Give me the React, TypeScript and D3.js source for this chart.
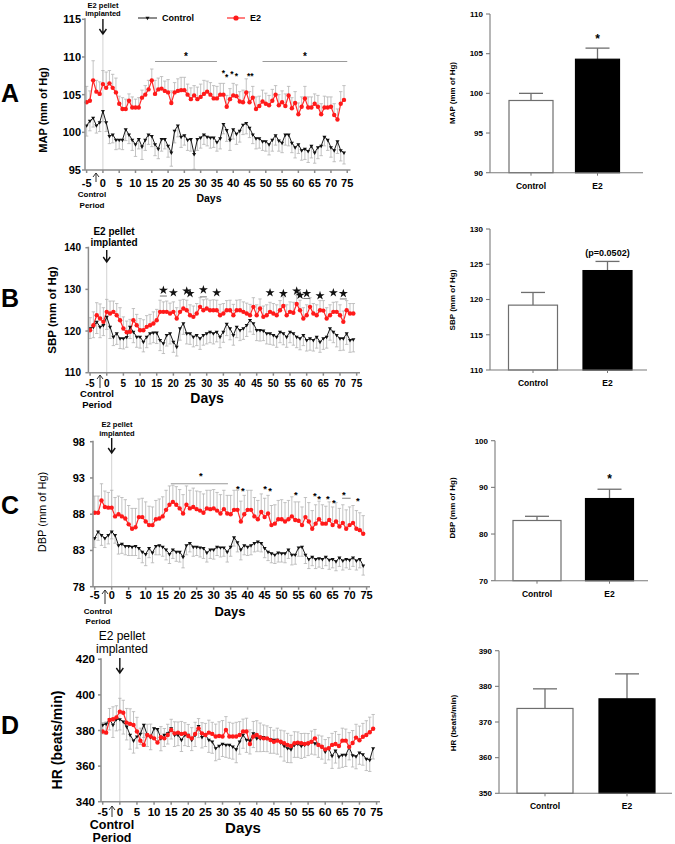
import React from "react";
import * as d3 from "d3";

const FONT = "'Liberation Sans', Arial, Helvetica, sans-serif";

const DAYS = d3.range(-5, 75);
const X_TICKS = d3.range(-5, 80, 5);
const GROUPS = ["Control", "E2"];

// ---------------- MAP ----------------
const MAP_E2 = [
  104.0, 104.2, 106.9, 105.4, 105.1, 106.4, 105.9, 106.5, 105.9, 105.3,
  103.8, 103.1, 103.1, 104.2, 103.3, 103.3, 103.3, 104.6, 105.0, 105.7,
  106.9, 105.1, 105.7, 105.8, 105.5, 105.3, 103.9, 105.3, 105.5, 105.6,
  105.6, 105.0, 104.4, 104.9, 104.4, 104.7, 105.1, 105.4, 105.0, 104.5,
  104.5, 105.0, 105.0, 103.4, 104.4, 104.9, 104.8, 104.1, 104.0, 105.3,
  104.0, 104.6, 103.1, 103.5, 104.1, 103.8, 103.6, 104.2, 105.0, 103.6,
  104.0, 103.5, 104.9, 103.2, 103.9, 102.4, 103.4, 104.5, 103.3, 103.3,
  103.8, 103.4, 102.4, 103.3, 103.3, 103.4, 102.3, 101.7, 103.8, 104.3,
];
const MAP_E2_ERR = [
  2.1, 1.3, 2.6, 1.5, 1.6, 1.8, 2.1, 1.7, 1.8, 1.9,
  1.0, 1.5, 1.3, 0.9, 1.4, 1.1, 1.3, 1.0, 1.2, 1.2,
  1.5, 1.8, 1.5, 1.6, 1.3, 1.7, 1.6, 1.3, 1.6, 1.7,
  1.7, 1.4, 1.5, 1.3, 1.6, 1.7, 1.8, 1.4, 1.6, 1.7,
  1.6, 1.5, 1.5, 1.5, 1.4, 1.6, 1.5, 1.3, 1.6, 1.8,
  1.4, 1.5, 1.6, 1.3, 1.5, 1.4, 1.3, 1.5, 1.2, 1.4,
  1.5, 1.6, 1.2, 1.4, 1.5, 1.5, 1.3, 1.6, 1.4, 1.4,
  1.3, 1.5, 1.4, 1.5, 1.4, 1.3, 1.5, 1.4, 1.6, 1.9,
];
const MAP_CTL = [
  100.9, 101.5, 101.9, 100.9, 101.3, 102.8, 101.3, 99.5, 99.7, 99.0,
  99.0, 99.0, 100.4, 99.7, 99.0, 98.4, 99.1, 98.1, 99.0, 99.7,
  99.5, 98.4, 97.8, 99.1, 99.1, 98.2, 97.3, 100.2, 100.9, 99.4,
  99.6, 99.0, 99.1, 97.1, 99.1, 99.3, 99.7, 99.4, 99.3, 99.3,
  98.7, 99.2, 101.1, 100.3, 99.0, 100.4, 99.8, 100.2, 101.0, 101.2,
  100.6, 99.7, 99.2, 99.2, 98.8, 98.8, 98.4, 99.0, 99.6, 98.9,
  98.6, 99.7, 99.7, 98.6, 98.0, 98.4, 97.6, 97.8, 97.5, 98.2,
  97.3, 98.0, 98.2, 99.4, 99.0, 98.0, 97.6, 98.8, 97.6, 97.3,
];
const MAP_CTL_ERR = [
  1.4, 1.3, 1.2, 1.0, 1.2, 1.4, 1.2, 1.0, 1.1, 1.3,
  1.2, 1.3, 1.5, 1.2, 1.4, 1.6, 1.3, 1.7, 1.4, 1.3,
  1.4, 1.5, 1.3, 1.6, 1.3, 1.5, 1.8, 1.6, 1.5, 1.4,
  1.3, 1.4, 1.6, 2.0, 1.5, 1.4, 1.3, 1.2, 1.4, 1.3,
  1.2, 1.4, 1.3, 1.5, 1.4, 1.3, 1.4, 1.5, 1.3, 1.4,
  1.3, 1.2, 1.4, 1.3, 1.2, 1.3, 1.4, 1.5, 1.3, 1.4,
  1.3, 1.4, 1.5, 1.3, 1.4, 1.2, 1.3, 1.4, 1.5, 1.6,
  1.4, 1.5, 1.3, 1.2, 1.4, 1.3, 1.5, 1.6, 1.4, 1.5,
];
const MAP_Y_TICKS = [95, 100, 105, 110, 115];
const MAP_SIG_LINES = [[16, 35], [49, 75]];
const MAP_SIG_LINE_VALUE = 109.4;
const MAP_STAR_DAYS = [25.5, 62, 37, 38, 39.6, 41, 44.7, 45.7];
const MAP_STAR_VALUES = [110.3, 110.3, 108.1, 107.6, 107.9, 107.7, 107.7, 107.7];
const MAP_BAR_MEAN = [99.1, 104.3];
const MAP_BAR_SEM = [0.9, 1.4];
const MAP_BAR_TICKS = [90, 95, 100, 105, 110];

// ---------------- SBP ----------------
const SBP_E2 = [
  120.2, 121.4, 123.8, 123.0, 122.2, 124.6, 124.2, 124.6, 123.8, 122.6,
  120.6, 119.7, 119.8, 122.6, 121.4, 120.2, 120.2, 121.0, 121.4, 121.8,
  122.6, 124.6, 124.6, 124.6, 124.2, 124.6, 123.0, 124.6, 125.4, 125.0,
  123.8, 123.4, 124.2, 125.8, 125.0, 125.4, 125.0, 125.0, 125.0, 123.8,
  124.2, 125.0, 125.0, 123.8, 125.0, 125.0, 124.6, 124.2, 123.8, 125.8,
  123.8, 125.4, 123.4, 123.8, 124.6, 124.2, 123.8, 125.0, 126.0, 123.8,
  124.6, 124.4, 126.5, 125.0, 123.0, 123.8, 125.8, 124.2, 123.8, 125.0,
  124.9, 123.0, 123.8, 124.6, 124.6, 123.8, 122.2, 125.0, 124.2, 124.2,
];
const SBP_E2_ERR = [
  3.0, 3.2, 3.0, 3.5, 3.4, 3.0, 3.0, 2.6, 2.8, 3.0,
  2.8, 2.7, 3.0, 2.8, 2.6, 2.8, 2.5, 2.7, 2.6, 2.8,
  2.6, 2.8, 2.4, 2.6, 2.5, 2.4, 2.6, 2.8, 2.2, 2.4,
  2.5, 2.6, 2.4, 2.2, 2.5, 2.3, 2.4, 2.5, 2.4, 2.6,
  2.4, 2.3, 2.4, 2.6, 2.4, 2.5, 2.4, 2.5, 2.6, 2.2,
  2.5, 2.3, 2.6, 2.5, 2.3, 2.4, 2.5, 2.3, 2.2, 2.5,
  2.4, 2.5, 2.1, 2.4, 2.6, 2.5, 2.2, 2.4, 2.5, 2.3,
  2.4, 2.6, 2.5, 2.3, 2.4, 2.5, 2.6, 2.3, 2.4, 2.4,
];
const SBP_CTL = [
  120.6, 121.0, 122.2, 121.0, 121.4, 123.4, 121.0, 118.6, 119.4, 118.2,
  118.2, 118.5, 121.0, 119.8, 118.6, 118.6, 117.4, 118.6, 119.4, 119.6,
  119.6, 117.8, 117.0, 119.0, 119.4, 117.4, 116.2, 120.6, 121.8, 119.4,
  119.4, 118.6, 119.0, 118.2, 119.0, 119.4, 119.8, 119.4, 119.8, 118.6,
  119.8, 121.7, 120.6, 119.0, 121.0, 120.2, 120.6, 121.4, 122.6, 121.8,
  120.2, 120.2, 120.1, 119.4, 119.4, 119.0, 118.6, 119.8, 119.4, 118.6,
  119.8, 119.4, 118.6, 118.2, 119.0, 117.8, 118.2, 117.8, 118.6, 117.4,
  118.2, 118.6, 120.6, 119.8, 119.0, 118.2, 118.2, 119.4, 117.8, 118.0,
];
const SBP_CTL_ERR = [
  2.4, 2.6, 2.8, 2.6, 2.5, 3.0, 2.8, 2.1, 2.6, 2.4,
  2.5, 2.4, 2.8, 2.6, 2.5, 2.7, 2.4, 2.6, 2.5, 2.4,
  2.6, 2.5, 2.4, 2.6, 2.5, 2.5, 2.2, 2.8, 2.6, 2.5,
  2.6, 2.4, 2.5, 2.6, 2.4, 2.5, 2.6, 2.5, 2.4, 2.6,
  2.5, 2.8, 2.7, 2.4, 2.6, 2.5, 2.6, 2.7, 2.8, 2.6,
  2.5, 2.6, 2.4, 2.5, 2.6, 2.4, 2.5, 2.6, 2.7, 2.5,
  2.6, 2.8, 2.6, 2.7, 2.5, 2.6, 2.8, 2.6, 2.7, 2.5,
  2.6, 2.7, 2.8, 2.6, 2.8, 2.9, 2.8, 2.6, 2.9, 3.0,
];
const SBP_Y_TICKS = [110, 120, 130, 140];
const SBP_STAR_DAYS = [17, 20, 24, 25, 29, 33, 49, 53, 57, 58, 60, 64, 68, 71];
const SBP_STAR_VALUES = [129.8, 129.2, 129.6, 129.0, 129.9, 129.2, 129.2, 129.0, 129.6, 128.6, 129.0, 128.5, 129.2, 129.0];
const SBP_UNDERLINE_DAYS = [17, 29, 60, 71];
const SBP_UNDERLINE_VALUES = [128.4, 128.2, 127.8, 127.7];
const SBP_BAR_MEAN = [119.2, 124.1];
const SBP_BAR_SEM = [1.8, 1.3];
const SBP_BAR_TICKS = [110, 115, 120, 125, 130];

// ---------------- DBP ----------------
const DBP_E2 = [
  88.2, 88.2, 89.9, 89.0, 88.9, 88.9, 87.7, 88.0, 87.7, 87.4,
  86.6, 86.0, 86.2, 87.6, 87.6, 87.0, 86.5, 86.5, 87.3, 87.4,
  87.7, 88.6, 89.3, 89.7, 89.3, 88.8, 88.1, 89.3, 88.8, 89.0,
  88.7, 88.5, 88.2, 88.8, 88.7, 88.8, 88.5, 88.1, 88.7, 88.1,
  88.0, 88.6, 88.6, 87.0, 88.0, 88.6, 88.6, 87.7, 87.3, 88.3,
  87.6, 88.1, 86.5, 86.7, 87.3, 87.3, 87.0, 87.3, 87.7, 87.2,
  87.1, 86.5, 87.6, 87.0, 86.0, 86.7, 87.3, 86.7, 86.7, 87.2,
  86.5, 87.0, 86.3, 86.8, 86.0, 86.5, 86.8, 86.0, 85.8, 85.3,
];
const DBP_E2_ERR = [
  2.3, 2.3, 2.3, 2.2, 2.1, 2.4, 2.6, 2.5, 2.6, 2.6,
  2.6, 2.8, 2.6, 2.5, 2.6, 2.7, 2.6, 2.5, 2.6, 2.7,
  2.7, 2.7, 2.6, 2.3, 2.5, 2.6, 2.6, 2.6, 2.5, 2.6,
  2.5, 2.6, 2.6, 2.5, 2.6, 2.6, 2.5, 2.6, 2.6, 2.5,
  2.6, 2.7, 2.7, 2.8, 2.6, 2.7, 2.7, 2.6, 2.6, 2.5,
  2.6, 2.5, 2.7, 2.6, 2.6, 2.7, 2.6, 2.6, 2.7, 2.5,
  2.6, 2.5, 2.7, 2.6, 2.5, 2.6, 2.5, 2.6, 2.4, 2.5,
  2.5, 2.6, 2.5, 2.5, 2.6, 2.5, 2.4, 2.5, 2.4, 2.5,
];
const DBP_CTL = [
  84.7, 85.6, 85.1, 84.7, 85.1, 85.6, 85.1, 83.7, 83.9, 83.6,
  83.6, 83.5, 83.6, 83.3, 82.8, 82.5, 83.3, 82.7, 83.6, 83.7,
  83.5, 83.1, 82.5, 83.1, 82.8, 82.8, 82.1, 83.7, 84.0, 83.5,
  83.5, 83.4, 83.3, 82.7, 83.1, 83.1, 83.5, 83.4, 83.4, 82.8,
  83.5, 84.8, 84.1, 83.1, 83.7, 83.5, 83.7, 84.0, 84.2, 84.0,
  83.3, 82.8, 82.6, 82.4, 82.7, 82.6, 82.6, 83.1, 82.4, 82.4,
  83.4, 83.5, 82.4, 81.8, 82.1, 81.8, 81.9, 81.8, 82.1, 81.7,
  81.8, 81.5, 82.0, 81.6, 81.8, 81.7, 82.0, 81.6, 81.8, 80.9,
];
const DBP_CTL_ERR = [
  1.3, 1.2, 1.4, 1.3, 1.2, 1.0, 1.1, 1.2, 1.3, 1.2,
  1.3, 1.2, 1.3, 1.4, 1.5, 1.6, 1.3, 1.4, 1.2, 1.3,
  1.3, 1.4, 1.3, 1.2, 1.3, 1.4, 1.5, 1.3, 1.2, 1.3,
  1.2, 1.3, 1.4, 1.3, 1.2, 1.3, 1.2, 1.3, 1.2, 1.4,
  1.3, 1.2, 1.3, 1.4, 1.3, 1.2, 1.3, 1.2, 1.3, 1.2,
  1.3, 1.2, 1.3, 1.2, 1.3, 1.2, 1.3, 1.2, 1.4, 1.3,
  1.2, 1.3, 1.2, 1.3, 1.2, 1.3, 1.2, 1.3, 1.2, 1.3,
  1.2, 1.3, 1.2, 1.3, 1.2, 1.3, 1.2, 1.3, 1.2, 1.3,
];
const DBP_Y_TICKS = [78, 83, 88, 93, 98];
const DBP_SIG_LINE = [17.4, 34.2];
const DBP_SIG_LINE_VALUE = 92.2;
const DBP_STAR_DAYS = [26.2, 37.1, 38.6, 45.1, 46.6, 54.2, 59.8, 61, 63.6, 65.4, 68.3, 72.4];
const DBP_STAR_VALUES = [93.6, 91.8, 91.5, 91.75, 91.5, 90.9, 90.8, 90.4, 90.4, 89.9, 90.9, 90.1];
const DBP_UNDERLINE = [67.8, 70.3];
const DBP_UNDERLINE_VALUE = 90.2;
const DBP_BAR_MEAN = [82.9, 87.6];
const DBP_BAR_SEM = [0.9, 2.0];
const DBP_BAR_TICKS = [70, 80, 90, 100];

// ---------------- HR ----------------
const HR_E2 = [
  379.4, 378.8, 385.9, 386.3, 387.4, 390.6, 390.0, 384.4, 383.7, 383.1,
  379.4, 374.3, 371.9, 377.5, 376.6, 375.6, 373.2, 376.2, 375.6, 377.5,
  380.3, 378.4, 378.8, 378.1, 378.4, 376.9, 375.6, 378.1, 381.2, 378.4,
  377.5, 378.8, 378.1, 376.6, 376.9, 376.6, 380.3, 376.6, 376.6, 376.6,
  377.5, 379.4, 379.4, 372.4, 376.6, 377.5, 376.2, 375.6, 375.6, 374.7,
  373.7, 374.3, 373.7, 372.8, 371.9, 371.3, 372.8, 373.2, 372.8, 372.4,
  372.8, 373.7, 375.6, 371.9, 370.9, 369.4, 370.0, 371.9, 372.4, 371.3,
  374.3, 374.3, 370.8, 373.0, 376.0, 374.5, 376.5, 377.5, 379.0, 381.0,
];
const HR_E2_ERR = [
  5.0, 6.0, 6.5, 7.0, 6.5, 7.5, 7.0, 8.0, 8.5, 7.5,
  8.0, 7.0, 6.5, 6.0, 7.0, 6.0, 6.5, 6.0, 5.5, 6.0,
  6.0, 6.5, 6.0, 7.0, 6.0, 6.5, 6.0, 6.5, 5.5, 6.0,
  6.5, 7.0, 6.5, 7.0, 8.0, 9.0, 7.5, 8.0, 7.5, 8.0,
  7.5, 7.0, 7.5, 8.0, 8.5, 8.0, 8.0, 7.5, 7.0, 7.0,
  6.5, 7.0, 6.5, 7.0, 6.5, 6.0, 6.5, 6.0, 5.5, 6.0,
  5.5, 6.0, 5.0, 5.5, 6.0, 5.5, 6.0, 6.5, 7.0, 6.5,
  7.0, 6.5, 8.0, 7.0, 7.5, 8.0, 7.5, 8.0, 8.5, 8.0,
];
const HR_CTL = [
  383.1, 383.7, 386.3, 383.1, 386.3, 386.3, 385.0, 382.2, 377.5, 374.3,
  376.6, 378.1, 383.1, 377.5, 376.2, 381.2, 380.7, 375.6, 377.5, 378.4,
  381.2, 377.5, 377.5, 374.7, 377.5, 377.5, 374.7, 377.5, 382.5, 376.2,
  377.5, 374.7, 373.7, 370.0, 371.3, 372.4, 371.9, 371.9, 370.9, 369.4,
  373.7, 377.5, 374.7, 374.3, 378.4, 375.6, 375.6, 376.2, 375.6, 375.2,
  374.7, 374.7, 373.2, 371.3, 370.0, 369.4, 371.9, 372.4, 371.3, 371.9,
  372.4, 373.7, 372.8, 371.9, 370.9, 368.1, 370.0, 365.7, 368.7, 365.3,
  366.3, 366.3, 370.5, 366.0, 365.5, 367.5, 366.5, 364.0, 363.5, 370.0,
];
const HR_CTL_ERR = [
  5.0, 5.5, 6.0, 7.0, 6.5, 6.0, 7.0, 7.5, 8.0, 7.0,
  6.5, 6.0, 7.0, 6.5, 7.0, 6.0, 6.5, 7.0, 6.5, 6.0,
  6.0, 6.5, 6.0, 6.5, 6.0, 6.5, 6.0, 6.5, 6.5, 6.0,
  6.5, 7.0, 6.5, 7.0, 7.5, 7.0, 7.0, 7.5, 7.0, 7.5,
  7.0, 7.5, 7.0, 7.5, 8.0, 7.5, 7.5, 8.0, 7.5, 8.0,
  7.5, 8.0, 8.0, 8.5, 8.0, 7.5, 7.0, 7.5, 7.0, 7.0,
  6.5, 7.0, 6.5, 7.0, 7.0, 6.5, 6.5, 7.0, 7.0, 6.5,
  7.0, 6.5, 7.0, 6.5, 7.0, 6.5, 6.0, 6.5, 6.5, 6.0,
];
const HR_Y_TICKS = [340, 360, 380, 400, 420];
const HR_BAR_MEAN = [373.8, 376.5];
const HR_BAR_SEM = [5.5, 7.0];
const HR_BAR_TICKS = [350, 360, 370, 380, 390];

// ---------------- components ----------------
type Scale = d3.ScaleLinear<number, number>;

interface LineCfg {
  letter: string; letterY: number;
  left: number; right: number; top: number; bottom: number;
  yDomain: [number, number]; yTicks: number[];
  e2: number[]; e2Err: number[]; ctl: number[]; ctlErr: number[];
  tickFont: number; yTickEnd: number; xLabelY: number;
  yLabel: string; yLabelX: number; yLabelY: number; yLabelFont: number; yLabelWeight: string;
  pelletFont: number; pelletWeight: string; pelletX: number; pelletY1: number; pelletY2: number;
  arrowTop: number; arrowBot: number; vlineTop: number;
  ctlFont: number; ctlX: number; ctlY1: number; ctlY2: number; ctlArrowX: number; ctlArrowTop: number; ctlArrowBot: number;
  daysFont: number; daysX: number; daysY: number;
  markerR: number; triSize: number;
  annot?: (x: Scale, y: Scale) => React.ReactNode;
  legend?: boolean;
}

const downArrow = (x: number, y0: number, y1: number) =>
  `M${x},${y0}V${y1}M${x - 3.5},${y1 - 5}L${x},${y1}L${x + 3.5},${y1 - 5}`;
const upArrow = (x: number, y0: number, y1: number) =>
  `M${x},${y0}V${y1}M${x - 3},${y1 + 4}L${x},${y1}L${x + 3},${y1 + 4}`;

function LineChart(c: LineCfg) {
  const x = d3.scaleLinear().domain([-5.5, 76]).range([c.left, c.right]);
  const y = d3.scaleLinear().domain(c.yDomain).range([c.bottom, c.top]);
  const line = d3.line<number>().x((_, i) => x(DAYS[i])).y((v) => y(v));
  const tri = d3.symbol().type(d3.symbolTriangle).size(c.triSize)() as string;
  const cap = 1.7;
  const errCol = "#b4b4b4";
  return (
    <g fontFamily={FONT}>
      <text x={1} y={c.letterY} fontSize={25} fontWeight="bold">{c.letter}</text>
      <line x1={x(0)} x2={x(0)} y1={c.vlineTop} y2={c.bottom} stroke="#d2d2d2" strokeWidth={1} />
      {c.e2.map((v, i) => {
        const xx = x(DAYS[i]);
        const yy = y(v + c.e2Err[i]);
        return (
          <g key={"ee" + i} stroke={errCol} strokeWidth={0.8}>
            <line x1={xx} x2={xx} y1={y(v)} y2={yy} />
            <line x1={xx - cap} x2={xx + cap} y1={yy} y2={yy} />
          </g>
        );
      })}
      {c.ctl.map((v, i) => {
        const xx = x(DAYS[i]);
        const yy = y(v - c.ctlErr[i]);
        return (
          <g key={"ce" + i} stroke={errCol} strokeWidth={0.8}>
            <line x1={xx} x2={xx} y1={y(v)} y2={yy} />
            <line x1={xx - cap} x2={xx + cap} y1={yy} y2={yy} />
          </g>
        );
      })}
      <path d={line(c.ctl) as string} fill="none" stroke="#1a1a1a" strokeWidth={1} />
      <path d={line(c.e2) as string} fill="none" stroke="#ff2a2a" strokeWidth={1.2} />
      {c.ctl.map((v, i) => (
        <path key={"cm" + i} d={tri} transform={`translate(${x(DAYS[i])},${y(v)}) rotate(180)`} fill="#111" />
      ))}
      {c.e2.map((v, i) => (
        <circle key={"em" + i} cx={x(DAYS[i])} cy={y(v)} r={c.markerR} fill="#ff1a1a" />
      ))}
      <g stroke="#8c8c8c" strokeWidth={1.5}>
        <line x1={c.left} x2={c.left} y1={c.top - 1} y2={c.bottom} />
        <line x1={c.left} x2={c.right} y1={c.bottom} y2={c.bottom} />
        {c.yTicks.map((t) => (
          <line key={"yt" + t} x1={c.left - 3} x2={c.left} y1={y(t)} y2={y(t)} />
        ))}
        {X_TICKS.map((t) => (
          <line key={"xt" + t} x1={x(t)} x2={x(t)} y1={c.bottom} y2={c.bottom + 3} />
        ))}
      </g>
      {c.yTicks.map((t) => (
        <text key={"yl" + t} x={c.yTickEnd} y={y(t)} dy="0.35em" textAnchor="end" fontSize={c.tickFont} fontWeight="bold">{t}</text>
      ))}
      {X_TICKS.map((t) => (
        <text key={"xl" + t} x={x(t)} y={c.xLabelY} textAnchor="middle" fontSize={c.tickFont} fontWeight="bold">{t}</text>
      ))}
      <text transform={`translate(${c.yLabelX},${c.yLabelY}) rotate(-90)`} textAnchor="middle" fontSize={c.yLabelFont} fontWeight={c.yLabelWeight}>{c.yLabel}</text>
      <text x={c.daysX} y={c.daysY} textAnchor="middle" fontSize={c.daysFont} fontWeight="bold">Days</text>
      <text x={c.pelletX} y={c.pelletY1} textAnchor="middle" fontSize={c.pelletFont} fontWeight={c.pelletWeight}>E2 pellet</text>
      <text x={c.pelletX} y={c.pelletY2} textAnchor="middle" fontSize={c.pelletFont} fontWeight={c.pelletWeight}>implanted</text>
      <path d={downArrow(x(0), c.arrowTop, c.arrowBot)} fill="none" stroke="#111" strokeWidth={1.4} />
      <path d={upArrow(c.ctlArrowX, c.ctlArrowBot, c.ctlArrowTop)} fill="none" stroke="#333" strokeWidth={1} />
      <text x={c.ctlX} y={c.ctlY1} textAnchor="middle" fontSize={c.ctlFont} fontWeight="bold">Control</text>
      <text x={c.ctlX} y={c.ctlY2} textAnchor="middle" fontSize={c.ctlFont} fontWeight="bold">Period</text>
      {c.legend && (
        <g>
          <line x1={138} x2={157} y1={18} y2={18} stroke="#1a1a1a" />
          <path d={tri} transform="translate(147.5,18) rotate(180)" fill="#111" />
          <text x={162} y={21} fontSize={9} fontWeight="bold">Control</text>
          <line x1={227} x2={245} y1={18} y2={18} stroke="#ff2a2a" strokeWidth={1.2} />
          <circle cx={236} cy={18} r={2.6} fill="#ff1a1a" />
          <text x={250} y={21} fontSize={9} fontWeight="bold">E2</text>
        </g>
      )}
      {c.annot && c.annot(x, y)}
    </g>
  );
}

interface BarCfg {
  axisX: number; axisEnd: number; top: number; bottom: number;
  domain: [number, number]; ticks: number[];
  centers: [number, number]; bw: number;
  mean: number[]; sem: number[];
  yLabel: string; yLabelX: number; yLabelY: number;
  catY: number; tickFont: number;
  note?: string; noteFont?: number; noteY?: number;
}

function BarChart(b: BarCfg) {
  const y = d3.scaleLinear().domain(b.domain).range([b.bottom, b.top]);
  const x = d3.scalePoint<string>().domain(GROUPS).range(b.centers);
  const capHalf = 12;
  return (
    <g fontFamily={FONT}>
      {GROUPS.map((g, i) => {
        const cx = x(g) as number;
        const yt = y(b.mean[i]);
        const ye = y(b.mean[i] + b.sem[i]);
        return (
          <g key={g}>
            <line x1={cx} x2={cx} y1={yt} y2={ye} stroke="#6e6e6e" strokeWidth={1.3} />
            <line x1={cx - capHalf} x2={cx + capHalf} y1={ye} y2={ye} stroke="#6e6e6e" strokeWidth={1.3} />
            <rect x={cx - b.bw / 2} y={yt} width={b.bw} height={b.bottom - yt}
              fill={i === 0 ? "#ffffff" : "#000000"} stroke={i === 0 ? "#6e6e6e" : "#000"} strokeWidth={1.2} />
            <line x1={cx} x2={cx} y1={b.bottom} y2={b.bottom + 3} stroke="#777" strokeWidth={1} />
            <text x={cx} y={b.catY} textAnchor="middle" fontSize={8.5} fontWeight="bold">{g}</text>
          </g>
        );
      })}
      <g stroke="#7a7a7a" strokeWidth={1.1}>
        <line x1={b.axisX} x2={b.axisX} y1={b.top} y2={b.bottom} />
        <line x1={b.axisX} x2={b.axisEnd} y1={b.bottom} y2={b.bottom} />
        {b.ticks.map((t) => (
          <line key={t} x1={b.axisX - 4} x2={b.axisX} y1={y(t)} y2={y(t)} />
        ))}
      </g>
      {b.ticks.map((t) => (
        <text key={"l" + t} x={b.axisX - 7} y={y(t)} dy="0.35em" textAnchor="end" fontSize={b.tickFont} fontWeight="bold">{t}</text>
      ))}
      <text transform={`translate(${b.yLabelX},${b.yLabelY}) rotate(-90)`} textAnchor="middle" fontSize={8} fontWeight="bold">{b.yLabel}</text>
      {b.note && (
        <text x={x("E2") as number} y={b.noteY} textAnchor="middle" fontSize={b.noteFont} fontWeight="bold">{b.note}</text>
      )}
    </g>
  );
}

const Ast = ({ x, y, fs }: { x: number; y: number; fs: number }) => (
  <text x={x} y={y + fs * 0.55} textAnchor="middle" fontSize={fs} fontWeight="bold" fontFamily={FONT}>*</text>
);

export default function App() {
  const star = d3.symbol().type(d3.symbolStar).size(26)() as string;
  return (
    <svg width={675} height={844} style={{ position: "absolute", left: 0, top: 0, background: "#fff" }}>
      {/* ---------- A ---------- */}
      <LineChart
        letter="A" letterY={102}
        left={85} right={350.5} top={19.3} bottom={170}
        yDomain={[95, 115]} yTicks={MAP_Y_TICKS}
        e2={MAP_E2} e2Err={MAP_E2_ERR} ctl={MAP_CTL} ctlErr={MAP_CTL_ERR}
        tickFont={11} yTickEnd={81} xLabelY={187}
        yLabel="MAP (mm of Hg)" yLabelX={47} yLabelY={110} yLabelFont={11} yLabelWeight="bold"
        pelletFont={7.5} pelletWeight="bold" pelletX={103} pelletY1={8} pelletY2={16}
        arrowTop={19} arrowBot={34} vlineTop={35}
        ctlFont={8} ctlX={92} ctlY1={197} ctlY2={208} ctlArrowX={96} ctlArrowTop={173} ctlArrowBot={182}
        daysFont={10.5} daysX={209} daysY={202}
        markerR={2.2} triSize={7}
        legend
        annot={(x, y) => (
          <g>
            {MAP_SIG_LINES.map((l, i) => (
              <line key={i} x1={x(l[0])} x2={x(l[1])} y1={y(MAP_SIG_LINE_VALUE)} y2={y(MAP_SIG_LINE_VALUE)} stroke="#9a9a9a" strokeWidth={1.2} />
            ))}
            {MAP_STAR_DAYS.map((d, i) => (
              <Ast key={i} x={x(d)} y={y(MAP_STAR_VALUES[i])} fs={i < 2 ? 10 : 8.5} />
            ))}
          </g>
        )}
      />
      <BarChart
        axisX={490} axisEnd={643} top={14} bottom={172.7}
        domain={[90, 110]} ticks={MAP_BAR_TICKS}
        centers={[531, 597.5]} bw={44}
        mean={MAP_BAR_MEAN} sem={MAP_BAR_SEM}
        yLabel="MAP (mm of Hg)" yLabelX={455} yLabelY={93}
        catY={189} tickFont={8}
        note="*" noteFont={12} noteY={43}
      />

      {/* ---------- B ---------- */}
      <LineChart
        letter="B" letterY={307}
        left={88.4} right={360} top={247.7} bottom={372.7}
        yDomain={[110, 140]} yTicks={SBP_Y_TICKS}
        e2={SBP_E2} e2Err={SBP_E2_ERR} ctl={SBP_CTL} ctlErr={SBP_CTL_ERR}
        tickFont={10} yTickEnd={81} xLabelY={387}
        yLabel="SBP (mm of Hg)" yLabelX={56} yLabelY={310} yLabelFont={11.5} yLabelWeight="bold"
        pelletFont={10} pelletWeight="bold" pelletX={114} pelletY1={235} pelletY2={246}
        arrowTop={250} arrowBot={262} vlineTop={263}
        ctlFont={9.5} ctlX={97} ctlY1={397} ctlY2={408} ctlArrowX={100} ctlArrowTop={375} ctlArrowBot={388}
        daysFont={14} daysX={207} daysY={403}
        markerR={2.2} triSize={7}
        annot={(x, y) => (
          <g>
            {SBP_UNDERLINE_DAYS.map((d, i) => (
              <line key={"u" + i} x1={x(d) - 3.5} x2={x(d) + 3.5} y1={y(SBP_UNDERLINE_VALUES[i])} y2={y(SBP_UNDERLINE_VALUES[i])} stroke="#555" strokeWidth={0.8} />
            ))}
            {SBP_STAR_DAYS.map((d, i) => (
              <path key={i} d={star} transform={`translate(${x(d)},${y(SBP_STAR_VALUES[i])})`} fill="#111" />
            ))}
          </g>
        )}
      />
      <BarChart
        axisX={490} axisEnd={647} top={229} bottom={370}
        domain={[110, 130]} ticks={SBP_BAR_TICKS}
        centers={[533, 607.5]} bw={49}
        mean={SBP_BAR_MEAN} sem={SBP_BAR_SEM}
        yLabel="SBP (mm of Hg)" yLabelX={455} yLabelY={300}
        catY={386} tickFont={8}
        note="(p=0.0502)" noteFont={9} noteY={256}
      />

      {/* ---------- C ---------- */}
      <LineChart
        letter="C" letterY={514}
        left={93} right={370} top={441.7} bottom={586.7}
        yDomain={[78, 98]} yTicks={DBP_Y_TICKS}
        e2={DBP_E2} e2Err={DBP_E2_ERR} ctl={DBP_CTL} ctlErr={DBP_CTL_ERR}
        tickFont={11} yTickEnd={85} xLabelY={599}
        yLabel="DBP (mm of Hg)" yLabelX={46} yLabelY={512} yLabelFont={11} yLabelWeight="normal"
        pelletFont={7.5} pelletWeight="bold" pelletX={117} pelletY1={427} pelletY2={435.5}
        arrowTop={438} arrowBot={453} vlineTop={453}
        ctlFont={8} ctlX={98} ctlY1={614} ctlY2={624} ctlArrowX={105} ctlArrowTop={590} ctlArrowBot={604}
        daysFont={13} daysX={230} daysY={616}
        markerR={2.2} triSize={7}
        annot={(x, y) => (
          <g>
            <line x1={x(DBP_SIG_LINE[0])} x2={x(DBP_SIG_LINE[1])} y1={y(DBP_SIG_LINE_VALUE)} y2={y(DBP_SIG_LINE_VALUE)} stroke="#9a9a9a" strokeWidth={1.2} />
            <line x1={x(DBP_UNDERLINE[0])} x2={x(DBP_UNDERLINE[1])} y1={y(DBP_UNDERLINE_VALUE)} y2={y(DBP_UNDERLINE_VALUE)} stroke="#777" strokeWidth={0.9} />
            {DBP_STAR_DAYS.map((d, i) => (
              <Ast key={i} x={x(d)} y={y(DBP_STAR_VALUES[i])} fs={9.5} />
            ))}
          </g>
        )}
      />
      <BarChart
        axisX={495} axisEnd={648} top={440.7} bottom={580.7}
        domain={[70, 100]} ticks={DBP_BAR_TICKS}
        centers={[537, 609.5]} bw={48}
        mean={DBP_BAR_MEAN} sem={DBP_BAR_SEM}
        yLabel="DBP (mm of Hg)" yLabelX={455} yLabelY={508}
        catY={597} tickFont={8}
        note="*" noteFont={12} noteY={483}
      />

      {/* ---------- D ---------- */}
      <LineChart
        letter="D" letterY={734}
        left={101} right={380} top={659.3} bottom={801.7}
        yDomain={[340, 420]} yTicks={HR_Y_TICKS}
        e2={HR_E2} e2Err={HR_E2_ERR} ctl={HR_CTL} ctlErr={HR_CTL_ERR}
        tickFont={11.5} yTickEnd={95} xLabelY={816}
        yLabel="HR (beats/min)" yLabelX={62} yLabelY={740} yLabelFont={14} yLabelWeight="bold"
        pelletFont={12} pelletWeight="500" pelletX={122} pelletY1={640} pelletY2={653}
        arrowTop={658} arrowBot={673} vlineTop={673}
        ctlFont={12.5} ctlX={112} ctlY1={829} ctlY2={842} ctlArrowX={112} ctlArrowTop={806} ctlArrowBot={817}
        daysFont={15} daysX={243} daysY={833}
        markerR={2.2} triSize={7}
      />
      <BarChart
        axisX={499} axisEnd={672} top={650.7} bottom={793.3}
        domain={[350, 390]} ticks={HR_BAR_TICKS}
        centers={[545, 627]} bw={56}
        mean={HR_BAR_MEAN} sem={HR_BAR_SEM}
        yLabel="HR (beats/min)" yLabelX={456} yLabelY={723}
        catY={809} tickFont={8}
      />
    </svg>
  );
}
